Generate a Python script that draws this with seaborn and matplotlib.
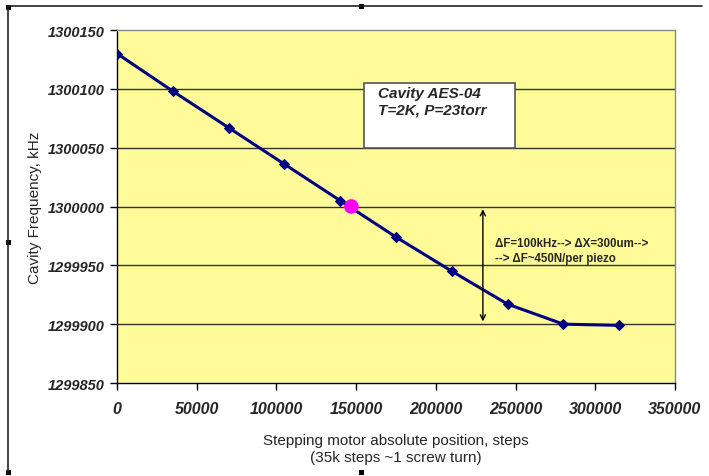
import matplotlib
matplotlib.use("Agg")
import matplotlib.pyplot as plt
import seaborn as sns
import pandas as pd
from matplotlib.lines import Line2D
from matplotlib.patches import Rectangle

# Measured cavity frequency vs. stepping motor position
positions = [0, 35000, 70000, 105000, 140000, 175000, 210000, 245000, 280000, 315000]
frequency_khz = [1300130, 1300098, 1300067, 1300036, 1300005, 1299974, 1299945, 1299917, 1299900, 1299899]

# Operating point
op_position = [147000]
op_frequency = [1300000]

x_ticks = [0, 50000, 100000, 150000, 200000, 250000, 300000, 350000]
y_ticks = [1299850, 1299900, 1299950, 1300000, 1300050, 1300100, 1300150]

df = pd.DataFrame({"position": positions, "frequency": frequency_khz})
df_op = pd.DataFrame({"position": op_position, "frequency": op_frequency})

sns.set_theme(style="white")
plt.rcParams["font.family"] = ["Liberation Sans", "DejaVu Sans"]

fig = plt.figure(figsize=(7.09, 4.77), dpi=100)
fig.patch.set_facecolor("white")
ax = fig.add_axes([117 / 709, 1 - 384 / 477, (675 - 117) / 709, (384 - 31) / 477])
ax.set_facecolor("#FFFB99")

for yv in y_ticks[1:-1]:
    ax.axhline(yv, color="#333333", lw=1.0, zorder=1)

sns.lineplot(data=df, x="position", y="frequency", ax=ax, color="#000080",
             lw=2.2, marker="D", markersize=5.5, markeredgecolor="#000080", zorder=3)
sns.scatterplot(data=df_op, x="position", y="frequency", ax=ax, color="#FF00FF",
                s=110, edgecolor="none", zorder=4)

ax.set_xlim(0, 350000)
ax.set_ylim(1299850, 1300150)
ax.set_xticks(x_ticks)
ax.set_yticks(y_ticks)
ax.set_xticklabels([str(v) for v in x_ticks], fontsize=11.5, fontweight="bold", fontstyle="italic")
ax.set_yticklabels([str(v) for v in y_ticks], fontsize=10.5, fontweight="bold", fontstyle="italic")
ax.tick_params(axis="both", direction="out", length=5, width=1, color="black",
               bottom=True, left=True)
ax.tick_params(axis="x", pad=8)
ax.tick_params(axis="y", pad=4)

for side in ["left", "bottom"]:
    ax.spines[side].set_color("black")
    ax.spines[side].set_linewidth(1.0)
for side in ["top", "right"]:
    ax.spines[side].set_color("#888888")
    ax.spines[side].set_linewidth(1.0)

ax.set_xlabel("Stepping motor absolute position, steps\n(35k steps ~1 screw turn)",
              fontsize=11, labelpad=12, linespacing=1.3)
ax.set_ylabel("Cavity Frequency, kHz", fontsize=11, labelpad=4)

# Title box inside the plot
ax.text(0.468, 0.84, "Cavity AES-04\nT=2K, P=23torr", transform=ax.transAxes,
        fontsize=11, fontweight="bold", fontstyle="italic", va="top", ha="left",
        linespacing=1.15, zorder=6)
ax.add_patch(Rectangle((0.443, 0.665), 0.27, 0.185, transform=ax.transAxes,
                       facecolor="white", edgecolor="#555555", lw=1.2, zorder=5))

# Tuning range arrow
ax.annotate("", xy=(229500, 1299900), xytext=(229500, 1300000),
            arrowprops=dict(arrowstyle="<->", color="black", lw=1.0,
                            mutation_scale=9), zorder=5)
ax.text(0.677, 0.413, "\u0394F=100kHz--> \u0394X=300um-->\n--> \u0394F~450N/per piezo",
        transform=ax.transAxes, fontsize=8.3, fontweight="bold", va="top", ha="left",
        linespacing=1.35, zorder=6)

# Frame around the chart object
fig.add_artist(Line2D([8 / 709, 702 / 709], [1 - 7 / 477, 1 - 7 / 477],
                      transform=fig.transFigure, color="#222222", lw=1.2))
fig.add_artist(Line2D([8 / 709, 8 / 709], [1 - 7 / 477, 1 - 474 / 477],
                      transform=fig.transFigure, color="#222222", lw=1.2))
for hx, hy in [(8, 8), (8, 243), (361, 7), (8, 473), (361, 473)]:
    fig.add_artist(Rectangle(((hx - 2.5) / 709, 1 - (hy + 2.5) / 477), 5 / 709, 5 / 477,
                             transform=fig.transFigure, facecolor="black",
                             edgecolor="none"))

fig.savefig("out.png", dpi=100)
